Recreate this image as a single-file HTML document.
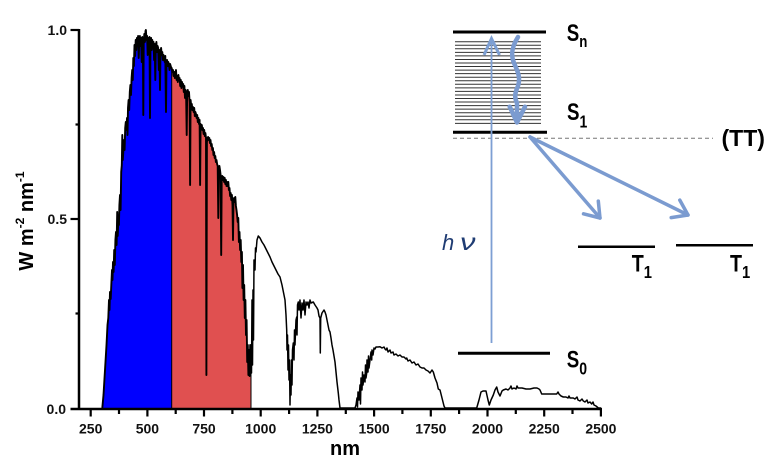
<!DOCTYPE html>
<html><head><meta charset="utf-8"><style>
html,body{margin:0;padding:0;background:#fff;}
svg{display:block;}
text{font-family:"Liberation Sans",Arial,sans-serif;}
</style></head><body>
<svg width="771" height="464" viewBox="0 0 771 464" xmlns="http://www.w3.org/2000/svg">
<rect width="771" height="464" fill="#fff"/>

<!-- blue fill -->
<path fill="#0000ff" stroke="none" d="M102.3,408 L103.5,395 105,370 106.5,345 107.5,325 108.3,318 109,300 109.5,310 110,292 110.7,299 111.3,285 112,270 112.5,280 113,262 113.6,272 114.2,250 114.8,265 115.4,240 116,232 116.6,245 117.2,212 117.7,236 118.3,222 118.9,225 119.4,205 120,195 120.6,210 121.2,172 121.8,165 122.3,135 122.8,160 123.4,150 124,140 124.6,150 125.2,128 125.8,122 126.4,130 127,118 127.5,135 128,108 128.6,100 129.2,110 129.8,92 130.4,85 131,95 131.6,78 132.2,70 132.8,80 133.3,58 133.9,66 134.5,45 135.1,56 135.7,40 136.3,50 136.9,38 137.5,44 138.1,36 138.7,58 139.3,40 139.9,36 140.5,46 141.1,38 141.7,62 142.3,37 142.9,47 143.3,115 143.7,44 144.3,34 144.9,42 145.5,31 145.9,30 146.5,40 147.1,36 147.7,55 148.3,38 148.9,44 149.5,37 150,118 150.5,42 151.1,38 151.7,50 152.3,40 152.9,46 153.5,42 154.1,60 154.7,44 155.3,80 155.8,46 156.4,42 157,52 157.6,46 158.2,48 158.8,70 159.4,50 160,90 160.5,52 161.1,48 161.7,55 162.3,52 162.9,60 163.5,55 164.1,58 164.7,62 165.3,56 166,112 166.5,62 167.1,60 167.7,66 168.3,62 168.9,64 169.5,70 170.1,64 170.7,66 171.3,68 171.7,68 L171.7,408 Z"/>

<!-- red fill -->
<path fill="#e05050" stroke="none" d="M171.7,408 L171.7,68 172.3,72 173,70 173.6,76 174.2,72 174.8,78 175.4,73 176,70 176.6,80 177.2,76 177.8,82 178.4,75 179,80 179.6,78 180.2,86 180.8,80 181.4,88 182,82 182.6,86 183.2,84 183.8,92 184.4,86 185,98 185.6,90 186.2,100 186.7,135 187.2,92 187.8,90 188.4,96 189,92 189.6,102 190.1,185 190.6,100 191.2,106 191.8,104 192.4,110 193,107 193.6,112 194.2,108 194.8,116 195.4,112 196,114 196.6,118 197.2,115 197.8,122 198.4,118 199,124 199.6,120 200.1,185 200.6,124 201.2,127 201.8,125 202.4,130 203,128 203.6,134 204.2,130 204.8,136 205.4,133 206,138 206.4,375 206.9,142 207.5,138 208.1,137 208.7,140 209.3,138 209.9,143 210.5,140 211.1,146 211.7,144 212.3,150 212.9,148 213.5,155 214.1,152 214.7,158 215.3,156 215.9,162 216.5,160 217.1,164 217.7,166 218.3,218 218.8,170 219.4,166 220,170 220.6,175 221.2,255 221.7,178 222.3,176 222.9,180 223.5,177 224.1,182 224.7,178 225.3,184 225.9,180 226.5,186 227.1,182 227.7,186 228.3,182 228.9,190 229.5,188 230.1,196 230.7,193 231.3,200 231.9,195 232.5,205 233,240 233.5,200 234.1,198 234.7,202 235.3,197 235.9,206 236.5,210 237.1,215 237.7,222 238.3,218 238.9,242 239.5,232 240.1,250 240.7,240 241.3,262 241.9,252 242.4,288 243,265 243.6,300 244.2,285 244.8,318 245.4,300 246,335 246.6,320 247.2,362 247.8,345 248.4,375 249,350 249.6,376 250.2,345 250.8,372 251,360 L251,408 Z"/>

<!-- spectrum outline (visible) -->
<polyline fill="none" stroke="#000" stroke-width="1.9" stroke-linejoin="round" points="102.3,408 103.5,395 105,370 106.5,345 107.5,325 108.3,318 109,300 109.5,310 110,292 110.7,299 111.3,285 112,270 112.5,280 113,262 113.6,272 114.2,250 114.8,265 115.4,240 116,232 116.6,245 117.2,212 117.7,236 118.3,222 118.9,225 119.4,205 120,195 120.6,210 121.2,172 121.8,165 122.3,135 122.8,160 123.4,150 124,140 124.6,150 125.2,128 125.8,122 126.4,130 127,118 127.5,135 128,108 128.6,100 129.2,110 129.8,92 130.4,85 131,95 131.6,78 132.2,70 132.8,80 133.3,58 133.9,66 134.5,45 135.1,56 135.7,40 136.3,50 136.9,38 137.5,44 138.1,36 138.7,58 139.3,40 139.9,36 140.5,46 141.1,38 141.7,62 142.3,37 142.9,47 143.3,115 143.7,44 144.3,34 144.9,42 145.5,31 145.9,30 146.5,40 147.1,36 147.7,55 148.3,38 148.9,44 149.5,37 150,118 150.5,42 151.1,38 151.7,50 152.3,40 152.9,46 153.5,42 154.1,60 154.7,44 155.3,80 155.8,46 156.4,42 157,52 157.6,46 158.2,48 158.8,70 159.4,50 160,90 160.5,52 161.1,48 161.7,55 162.3,52 162.9,60 163.5,55 164.1,58 164.7,62 165.3,56 166,112 166.5,62 167.1,60 167.7,66 168.3,62 168.9,64 169.5,70 170.1,64 170.7,66 171.3,68 171.7,68 172.3,72 173,70 173.6,76 174.2,72 174.8,78 175.4,73 176,70 176.6,80 177.2,76 177.8,82 178.4,75 179,80 179.6,78 180.2,86 180.8,80 181.4,88 182,82 182.6,86 183.2,84 183.8,92 184.4,86 185,98 185.6,90 186.2,100 186.7,135 187.2,92 187.8,90 188.4,96 189,92 189.6,102 190.1,185 190.6,100 191.2,106 191.8,104 192.4,110 193,107 193.6,112 194.2,108 194.8,116 195.4,112 196,114 196.6,118 197.2,115 197.8,122 198.4,118 199,124 199.6,120 200.1,185 200.6,124 201.2,127 201.8,125 202.4,130 203,128 203.6,134 204.2,130 204.8,136 205.4,133 206,138 206.4,375 206.9,142 207.5,138 208.1,137 208.7,140 209.3,138 209.9,143 210.5,140 211.1,146 211.7,144 212.3,150 212.9,148 213.5,155 214.1,152 214.7,158 215.3,156 215.9,162 216.5,160 217.1,164 217.7,166 218.3,218 218.8,170 219.4,166 220,170 220.6,175 221.2,255 221.7,178 222.3,176 222.9,180 223.5,177 224.1,182 224.7,178 225.3,184 225.9,180 226.5,186 227.1,182 227.7,186 228.3,182 228.9,190 229.5,188 230.1,196 230.7,193 231.3,200 231.9,195 232.5,205 233,240 233.5,200 234.1,198 234.7,202 235.3,197 235.9,206 236.5,210 237.1,215 237.7,222 238.3,218 238.9,242 239.5,232 240.1,250 240.7,240 241.3,262 241.9,252 242.4,288 243,265 243.6,300 244.2,285 244.8,318 245.4,300 246,335 246.6,320 247.2,362 247.8,345 248.4,375 249,350 249.6,376 250.2,345 250.8,372 251,360"/>
<!-- spectrum outline (IR) -->
<polyline fill="none" stroke="#000" stroke-width="1.5" stroke-linejoin="round" points="251,360 251.5,373 252,300 252.5,365 253,290 253.5,340 254,260 255,270 255.5,248 256,252 257,240 258.3,236 260,238 262,242 264,245 266,249 268,253 270,257 272,262 274,266 276,270 278,274 280,277 282,285 283,290 284,295 285,300 286,315 286.7,330 287,350 287.5,335 288,370 288.5,345 289,380 289.5,360 290,405 290.5,375 291,395 291.5,360 292,385 292.5,350 293.3,343 294,360 294.5,330 295,345 296,320 296.7,317 297,335 297.5,305 298.3,302 299,310 300,300 301,318 302,303 303,310 304,300 305,315 306,302 307,305 308,302 309,308 310,300 311,303 313.3,302 315,305 317,308 318,310 319,316 320,318 320.3,353 320.7,318 322,313 324,310 325,312 326,315 327,320 328,325 329,330 330,332 331,338 332,345 333,350 334,356 335,362 336,372 337,382 338.3,393 339,400 340,408 355,408 356,405 357,398 357.5,407 358,392 359,400 360,385 360.5,404 361,378 362,390 362.5,372 363,385 364,375 365,382 365.5,365 366,378 366.7,373 367,360 368,372 368.5,356 369,368 370,360 371,352 371.7,360 372,350 373,355 374,348 375,349 376,347 378,347 380,346.7 382,348 384,347 385,349 386,350 387,348 388,352 390,350 391,353 393,352 394,355 396,354 398,356 400,355 402,357 404,357 406,359 406.7,358 408,361 410,360 412,363 414,362 416,365 418,364 420,367 422,368 424,368 426,370 428,371 430,373 432,370 433.3,372 435,378 437,383 438.3,389 440,390 442,398 444,406 445,408 476.7,408 479,400 481,392 483,391 486,391 488,400 489.3,405 491,400 493.3,395 495,390 496.7,387 498,392 500,396 502,391 503.3,390 506,389 508,390 510,388 511,386 512,389 514,388 516,389 517,386 518,388 520,388 522,388 526,389 530,389 534,388 537,388 539,389 540,390 541.7,394 545,394 550,394 553,394 556.7,394 558,392 559,394 561,396 563.3,397 566,397 568,398 569,396 570,398 573.3,398 575,399 577,397 578,400 580,401 582,399 583.3,401 585,402 587,400 588,403 590,402 591.7,404 593,402 594,405 596,406 598.3,408 601,408"/>
<line x1="171.7" y1="68" x2="171.7" y2="408" stroke="#000" stroke-width="1"/>
<line x1="251" y1="360" x2="251" y2="408" stroke="#000" stroke-width="1"/>

<!-- axes -->
<line x1="79" y1="29" x2="79" y2="410" stroke="#000" stroke-width="2.5"/>
<line x1="70.5" y1="409" x2="602" y2="409" stroke="#000" stroke-width="2.5"/>
<g stroke="#000" stroke-width="2.2">
<line x1="70.5" y1="30" x2="79" y2="30"/>
<line x1="70.5" y1="219" x2="79" y2="219"/>
<line x1="75.5" y1="124.5" x2="79" y2="124.5"/>
<line x1="75.5" y1="313.5" x2="79" y2="313.5"/>
<line x1="90.7" y1="409" x2="90.7" y2="416.5"/>
<line x1="119" y1="409" x2="119" y2="414"/>
<line x1="147.4" y1="409" x2="147.4" y2="416.5"/>
<line x1="175.7" y1="409" x2="175.7" y2="414"/>
<line x1="204" y1="409" x2="204" y2="416.5"/>
<line x1="232.4" y1="409" x2="232.4" y2="414"/>
<line x1="260.7" y1="409" x2="260.7" y2="416.5"/>
<line x1="289.1" y1="409" x2="289.1" y2="414"/>
<line x1="317.4" y1="409" x2="317.4" y2="416.5"/>
<line x1="345.8" y1="409" x2="345.8" y2="414"/>
<line x1="374.1" y1="409" x2="374.1" y2="416.5"/>
<line x1="402.4" y1="409" x2="402.4" y2="414"/>
<line x1="430.8" y1="409" x2="430.8" y2="416.5"/>
<line x1="459.1" y1="409" x2="459.1" y2="414"/>
<line x1="487.5" y1="409" x2="487.5" y2="416.5"/>
<line x1="515.8" y1="409" x2="515.8" y2="414"/>
<line x1="544.2" y1="409" x2="544.2" y2="416.5"/>
<line x1="572.5" y1="409" x2="572.5" y2="414"/>
<line x1="600.9" y1="409" x2="600.9" y2="416.5"/>
</g>

<!-- tick labels -->
<g font-size="14" font-weight="bold" fill="#111" text-anchor="end">
<text x="67" y="35">1.0</text>
<text x="67" y="224">0.5</text>
<text x="66" y="414">0.0</text>
</g>
<g font-size="14" font-weight="bold" fill="#111" text-anchor="middle">
<text x="90.7" y="433.5">250</text>
<text x="147.4" y="433.5">500</text>
<text x="204" y="433.5">750</text>
<text x="260.7" y="433.5">1000</text>
<text x="317.4" y="433.5">1250</text>
<text x="374.1" y="433.5">1500</text>
<text x="430.8" y="433.5">1750</text>
<text x="487.5" y="433.5">2000</text>
<text x="544.2" y="433.5">2250</text>
<text x="600.9" y="433.5">2500</text>
</g>
<text x="345" y="455" font-size="20" font-weight="bold" text-anchor="middle">nm</text>
<text transform="translate(33,221) rotate(-90)" font-size="20" font-weight="bold" text-anchor="middle">W m<tspan font-size="12" dy="-9">-2</tspan><tspan dy="9"> nm</tspan><tspan font-size="12" dy="-9">-1</tspan></text>

<!-- energy diagram -->
<g stroke="#333" stroke-width="1">
<line x1="455" y1="41.7" x2="541" y2="41.7"/><line x1="455" y1="45.25" x2="541" y2="45.25"/><line x1="455" y1="48.8" x2="541" y2="48.8"/><line x1="455" y1="52.35" x2="541" y2="52.35"/><line x1="455" y1="55.9" x2="541" y2="55.9"/><line x1="455" y1="59.45" x2="541" y2="59.45"/><line x1="455" y1="63" x2="541" y2="63"/><line x1="455" y1="66.55" x2="541" y2="66.55"/><line x1="455" y1="70.1" x2="541" y2="70.1"/><line x1="455" y1="73.65" x2="541" y2="73.65"/><line x1="455" y1="77.2" x2="541" y2="77.2"/><line x1="455" y1="80.75" x2="541" y2="80.75"/><line x1="455" y1="84.3" x2="541" y2="84.3"/><line x1="455" y1="87.85" x2="541" y2="87.85"/><line x1="455" y1="91.4" x2="541" y2="91.4"/><line x1="455" y1="94.95" x2="541" y2="94.95"/><line x1="455" y1="98.5" x2="541" y2="98.5"/><line x1="455" y1="102.05" x2="541" y2="102.05"/><line x1="455" y1="105.6" x2="541" y2="105.6"/><line x1="455" y1="109.15" x2="541" y2="109.15"/><line x1="455" y1="112.7" x2="541" y2="112.7"/><line x1="455" y1="116.25" x2="541" y2="116.25"/><line x1="455" y1="119.8" x2="541" y2="119.8"/><line x1="455" y1="123.35" x2="541" y2="123.35"/>
</g>
<line x1="453" y1="32" x2="546" y2="32" stroke="#000" stroke-width="3"/>
<line x1="453" y1="132.3" x2="547" y2="132.3" stroke="#000" stroke-width="3"/>
<line x1="453" y1="138.3" x2="713" y2="138.3" stroke="#777" stroke-width="1" stroke-dasharray="4 3"/>
<line x1="458" y1="353.3" x2="550" y2="353.3" stroke="#000" stroke-width="3"/>
<line x1="578" y1="246.7" x2="655" y2="246.7" stroke="#000" stroke-width="2.5"/>
<line x1="676" y1="245.3" x2="753" y2="245.3" stroke="#000" stroke-width="2.5"/>

<!-- h nu arrow -->
<line x1="491.5" y1="39" x2="491.5" y2="343" stroke="#7d9fd3" stroke-width="1.8"/>
<polyline points="484,55 491.5,38.5 499.5,55" fill="none" stroke="#7d9fd3" stroke-width="3"/>

<!-- wavy arrow -->
<path d="M518,37 C511,48 511,56 514,63 C517,70 521,77 518,86 C515,93 514,97 517,103 L517,120" fill="none" stroke="#7b9bd0" stroke-width="4.5" stroke-linecap="round"/>
<polyline points="509.7,106.7 517,122.5 525,106.7" fill="none" stroke="#7b9bd0" stroke-width="4.5" stroke-linecap="round" stroke-linejoin="round"/>

<!-- fission arrows -->
<g fill="none" stroke="#7b9bd0" stroke-width="3.5" stroke-linecap="round" stroke-linejoin="round">
<line x1="530" y1="137" x2="600" y2="218"/>
<polyline points="583.5,213.8 600,218 598.3,201.1"/>
<line x1="530" y1="137" x2="688" y2="215"/>
<polyline points="671.2,217.6 688,215 679.8,200.1"/>
</g>

<!-- labels -->
<g font-weight="bold" fill="#000">
<text transform="translate(566.7,41) scale(0.78,1)" font-size="24">S<tspan font-size="17" dy="6">n</tspan></text>
<text transform="translate(567,120) scale(0.78,1)" font-size="24">S<tspan font-size="18" dy="7.5">1</tspan></text>
<text transform="translate(566.7,367.3) scale(0.78,1)" font-size="24">S<tspan font-size="18" dy="7">0</tspan></text>
<text transform="translate(631.7,271.7) scale(0.82,1)" font-size="24">T<tspan font-size="18" dy="6.5">1</tspan></text>
<text transform="translate(730,271.7) scale(0.82,1)" font-size="24">T<tspan font-size="18" dy="6.5">1</tspan></text>
<text x="721.5" y="146" font-size="23">(TT)</text>
</g>
<text x="442" y="250" font-size="22" font-style="italic" fill="#1f3c73" font-family="Liberation Serif, serif">h</text>
<text transform="translate(460,250) scale(1.35,1)" font-size="23" font-style="italic" fill="#1f3c73" font-family="Liberation Serif, serif">ν</text>
</svg>
</body></html>
